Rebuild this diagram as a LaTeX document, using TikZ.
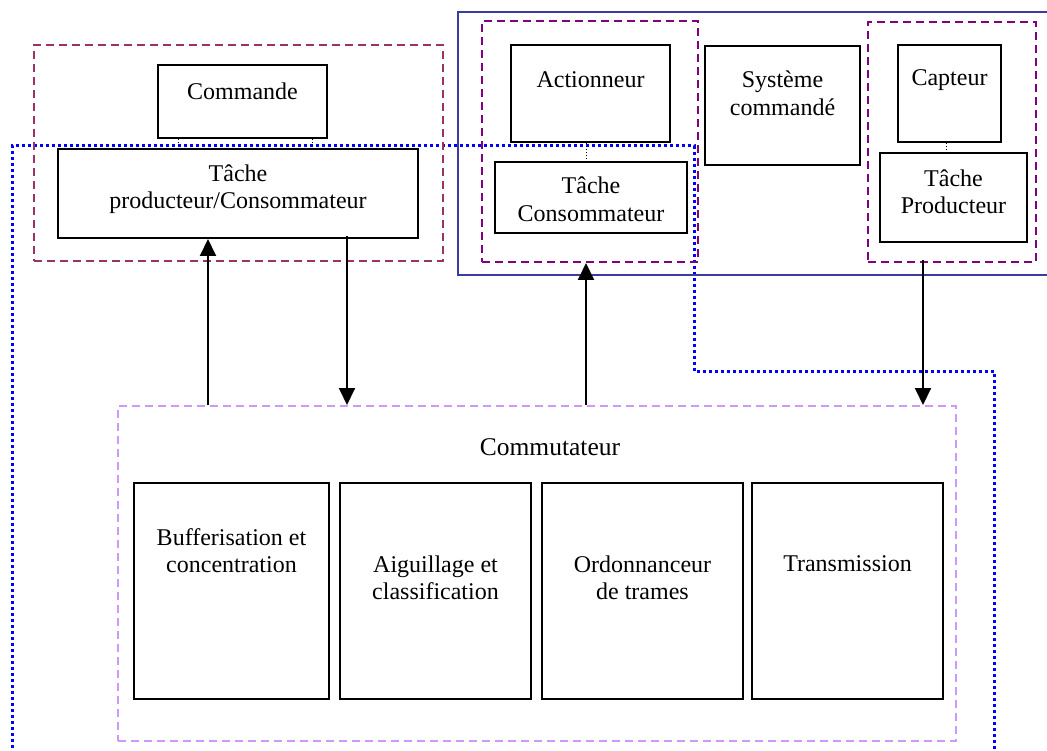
\documentclass[tikz,border=0pt]{standalone}
\usepackage{fontspec}
\setmainfont{Liberation Serif}
\usetikzlibrary{arrows.meta}
\definecolor{maroonc}{HTML}{993366}
\definecolor{purplec}{HTML}{800080}
\definecolor{framec}{HTML}{3C3CA0}
\definecolor{lilac}{HTML}{CC99FF}
\definecolor{dotblue}{HTML}{0000FF}
\begin{document}
\begin{tikzpicture}[x=1pt,y=-1pt,
  box/.style={draw=black, line width=2pt, inner sep=0pt},
  grp/.style={draw=#1, line width=2pt, dash pattern=on 8pt off 5pt, inner sep=0pt},
  txt/.style={align=center, inner sep=0pt, font=\fontsize{24}{27.5}\selectfont},
  arr/.style={line width=2pt, -{Triangle[length=17pt,width=16pt]}},
  link/.style={line width=0.8pt, dash pattern=on 1pt off 2pt},
  bdot/.style={draw=dotblue, line width=3pt, dash pattern=on 3pt off 3pt}]
\useasboundingbox (0,0) rectangle (1047,751);

% blue dotted boundary
\coordinate (d0) at (12,760);
\coordinate (d1) at (12,146);
\coordinate (d2) at (694,146);
\coordinate (d3) at (694,371);
\coordinate (d4) at (994,371);
\coordinate (d5) at (994,760);
\draw[bdot] (d0) -- (d1) -- (d2) -- (d3) -- (d4) -- (d5);

% blue solid frame (open at right)
\coordinate (f0) at (1060,12);
\coordinate (f1) at (458,12);
\coordinate (f2) at (458,275);
\coordinate (f3) at (1060,275);
\draw[draw=framec, line width=1.8pt] (f0) -- (f1) -- (f2) -- (f3);

% left group
\node[grp=maroonc, minimum width=409pt, minimum height=216pt] (grpcmd) at (238.5,153) {};
\node[box, minimum width=169pt, minimum height=73pt] (cmd) at (242.5,101.5) {};
\node[txt] (cmdt) at (242.5,91) {Commande};
\node[box, minimum width=360pt, minimum height=89pt] (tpc) at (238,193.5) {};
\node[txt] (tpct) at (238,189) {Tâche\\producteur/Consommateur};

% actionneur group
\node[grp=purplec, minimum width=216pt, minimum height=241pt] (grpact) at (590,141.5) {};
\node[box, minimum width=159pt, minimum height=97pt] (act) at (590.5,93.5) {};
\node[txt] (actt) at (590.5,80) {Actionneur};
\node[box, minimum width=192pt, minimum height=71pt] (tcons) at (591,197.5) {};
\node[txt] (tconst) at (591,199.5) {Tâche\\Consommateur};

% systeme commande
\node[box, minimum width=155pt, minimum height=119pt] (sys) at (782.5,105.5) {};
\node[txt] (syst) at (782.5,93.5) {Système\\commandé};

% capteur group
\node[grp=purplec, minimum width=168pt, minimum height=240pt] (grpcap) at (952,142) {};
\node[box, minimum width=103pt, minimum height=97pt] (cap) at (949.5,93.5) {};
\node[txt] (capt) at (949.5,80) {Capteur};
\node[box, minimum width=147pt, minimum height=89pt] (tprod) at (953.5,197.5) {};
\node[txt] (tprodt) at (953.5,192) {Tâche\\Producteur};

% commutateur
\node[draw=lilac, line width=2pt, dash pattern=on 8pt off 5pt, inner sep=0pt,
      minimum width=838pt, minimum height=335pt] (commut) at (537,573.5) {};
\node[txt, font=\fontsize{25.5}{29}\selectfont] (commutt) at (550,447) {Commutateur};
\node[box, minimum width=195pt, minimum height=216pt] (b1) at (231.5,591) {};
\node[txt] (b1t) at (231.5,550.5) {Bufferisation et\\concentration};
\node[box, minimum width=191pt, minimum height=216pt] (b2) at (435.5,591) {};
\node[txt] (b2t) at (435.5,578) {Aiguillage et\\classification};
\node[box, minimum width=201pt, minimum height=216pt] (b3) at (642.5,591) {};
\node[txt] (b3t) at (642.5,578) {Ordonnanceur\\de trames};
\node[box, minimum width=191pt, minimum height=216pt] (b4) at (847.5,591) {};
\node[txt] (b4t) at (847.5,564) {Transmission};

% dotted links
\coordinate (xa) at (178,0);
\coordinate (xb) at (312,0);
\coordinate (xc) at (586,0);
\coordinate (xd) at (946,0);
\draw[link] (cmd.south -| xa) -- (tpc.north -| xa);
\draw[link] (cmd.south -| xb) -- (tpc.north -| xb);
\draw[link] (act.south -| xc) -- (tcons.north -| xc);
\draw[link] (cap.south -| xd) -- (tprod.north -| xd);

% arrows
\coordinate (a1) at (208,0);
\coordinate (a2) at (347,0);
\coordinate (a3) at (586,0);
\coordinate (a4) at (923,0);
\draw[arr] (commut.north -| a1) -- (tpc.south -| a1);
\draw[arr] ([yshift=3pt]tpc.south -| a2) -- (commut.north -| a2);
\draw[arr] (commut.north -| a3) -- (grpact.south -| a3);
\draw[arr] ([yshift=3pt]grpcap.south -| a4) -- (commut.north -| a4);
\end{tikzpicture}
\end{document}
